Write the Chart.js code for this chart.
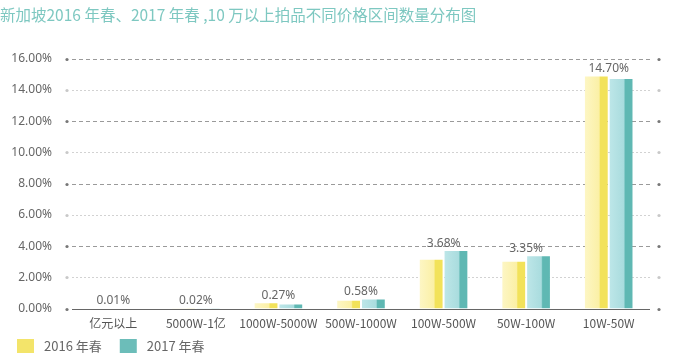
<!DOCTYPE html>
<html>
<head>
<meta charset="utf-8">
<script src="https://cdn.jsdelivr.net/npm/chart.js@4.4.1/dist/chart.umd.min.js"></script>
<style>
  html, body { margin: 0; padding: 0; background: #fff; }
  #wrap { width: 690px; height: 360px; }
</style>
</head>
<body>
<div id="wrap"><canvas id="c" width="690" height="360"></canvas></div>
<script>
'use strict';

const titleText = '新加坡2016 年春、2017 年春 ,10 万以上拍品不同价格区间数量分布图';
const categories = ['亿元以上', '5000W-1亿', '1000W-5000W', '500W-1000W', '100W-500W', '50W-100W', '10W-50W'];
const spring2016 = [0.01, 0.02, 0.35, 0.50, 3.12, 3.00, 14.85];
const spring2017 = [0.01, 0.02, 0.27, 0.58, 3.68, 3.35, 14.70];
const seriesNames = ['2016 年春', '2017 年春'];
const yTicks = [0, 2, 4, 6, 8, 10, 12, 14, 16];

const CAT_PCT = 0.6;
const BAR_PCT = 0.92;
const CJK = '"Noto Sans CJK SC", "Noto Sans", sans-serif';
const palette = [
  { light: '#fdf6c4', mid: '#fbf0a6', strong: '#f2e25a', solid: '#f3e46a' },
  { light: '#bde6e8', mid: '#a9dcde', strong: '#5fb8b3', solid: '#6cbdb9' },
];

// gradient fill: light body with a stronger strip on the right edge
function barFill(ctx) {
  const chart = ctx.chart;
  const p = palette[ctx.datasetIndex];
  const xs = chart.scales.x;
  if (!chart.chartArea || !xs || ctx.dataIndex === undefined) return p.solid;
  const cw = (xs.right - xs.left) / categories.length;
  const group = cw * CAT_PCT;
  const bw = group / 2 * BAR_PCT;
  const cx = xs.getPixelForValue(ctx.dataIndex) + (ctx.datasetIndex === 0 ? -group / 4 : group / 4);
  const x0 = cx - bw / 2, x1 = cx + bw / 2;
  const g = chart.ctx.createLinearGradient(x0, 0, x1, 0);
  g.addColorStop(0, p.light);
  g.addColorStop(0.62, p.mid);
  g.addColorStop(0.68, p.strong);
  g.addColorStop(1, p.strong);
  return g;
}

// dashed grid lines with end dots
const gridPlugin = {
  id: 'dashGrid',
  beforeDatasetsDraw(chart) {
    const { ctx, chartArea } = chart;
    const ys = chart.scales.y;
    ctx.save();
    yTicks.forEach((v) => {
      const y = Math.round(ys.getPixelForValue(v)) + 0.5;
      const major = v % 4 === 0;
      ctx.beginPath();
      if (v === 0) {
        ctx.setLineDash([]);
        ctx.strokeStyle = '#666';
        ctx.lineWidth = 1.2;
      } else {
        ctx.setLineDash(major ? [4, 3] : [2, 2]);
        ctx.strokeStyle = major ? '#9a9a9a' : '#d2d2d2';
        ctx.lineWidth = 1;
      }
      ctx.moveTo(chartArea.left, y);
      ctx.lineTo(chartArea.right, y);
      ctx.stroke();
      ctx.setLineDash([]);
      ctx.fillStyle = major ? '#777' : '#c8c8c8';
      [chartArea.left - 5, chartArea.right + 9].forEach((x) => {
        ctx.beginPath();
        ctx.arc(x, y, 1.6, 0, Math.PI * 2);
        ctx.fill();
      });
    });
    ctx.restore();
  },
};

// value label over each pair
const valuePlugin = {
  id: 'pairLabels',
  afterDatasetsDraw(chart) {
    const { ctx } = chart;
    const m0 = chart.getDatasetMeta(0).data;
    const m1 = chart.getDatasetMeta(1).data;
    const xs = chart.scales.x;
    ctx.save();
    ctx.font = '12px "Noto Sans", "Noto Sans CJK SC", sans-serif';
    ctx.fillStyle = '#666';
    ctx.textAlign = 'center';
    ctx.textBaseline = 'bottom';
    spring2017.forEach((v, i) => {
      const top = Math.min(m0[i].y, m1[i].y);
      ctx.fillText(v.toFixed(2) + '%', xs.getPixelForValue(i), top - 2);
    });
    ctx.restore();
  },
};

// simple legend in the bottom-left corner
const legendPlugin = {
  id: 'cornerLegend',
  afterDraw(chart) {
    const { ctx } = chart;
    const y = chart.height - 14;
    let x = 17;
    ctx.save();
    ctx.font = '13px ' + CJK;
    ctx.textBaseline = 'middle';
    seriesNames.forEach((name, i) => {
      ctx.fillStyle = palette[i].solid;
      ctx.fillRect(x, y - 7, 17, 14);
      x += 17 + 10;
      ctx.fillStyle = '#666';
      ctx.fillText(name, x, y);
      x += ctx.measureText(name).width + 18;
    });
    ctx.restore();
  },
};

const chart = new Chart(document.getElementById('c'), {
  type: 'bar',
  data: {
    labels: categories,
    datasets: [
      { label: seriesNames[0], data: spring2016, backgroundColor: barFill, categoryPercentage: CAT_PCT, barPercentage: BAR_PCT },
      { label: seriesNames[1], data: spring2017, backgroundColor: barFill, categoryPercentage: CAT_PCT, barPercentage: BAR_PCT },
    ],
  },
  options: {
    responsive: false,
    animation: false,
    layout: { padding: { left: 0, right: 40, top: 0, bottom: 21 } },
    plugins: {
      title: {
        display: true,
        text: titleText,
        align: 'start',
        color: '#7ec8c1',
        font: { size: 15.5, family: CJK, weight: 'normal' },
        padding: { top: 6, bottom: 34 },
      },
      legend: { display: false },
      tooltip: { enabled: false },
    },
    scales: {
      x: {
        grid: { display: false, drawTicks: false },
        border: { display: false },
        ticks: {
          color: '#555',
          padding: 8,
          maxRotation: 0,
          autoSkip: false,
          font: { size: 12, family: CJK },
        },
      },
      y: {
        min: 0,
        max: 16,
        grid: { display: false, drawTicks: false },
        border: { display: false },
        afterBuildTicks: (s) => { s.ticks = yTicks.map((v) => ({ value: v })); },
        afterFit: (s) => { s.width = 72; },
        ticks: {
          color: '#666',
          padding: 20,
          font: { size: 12, family: '"Noto Sans", sans-serif' },
          callback: (v) => Number(v).toFixed(2) + '%',
        },
      },
    },
  },
  plugins: [gridPlugin, valuePlugin, legendPlugin],
});
</script>
</body>
</html>
